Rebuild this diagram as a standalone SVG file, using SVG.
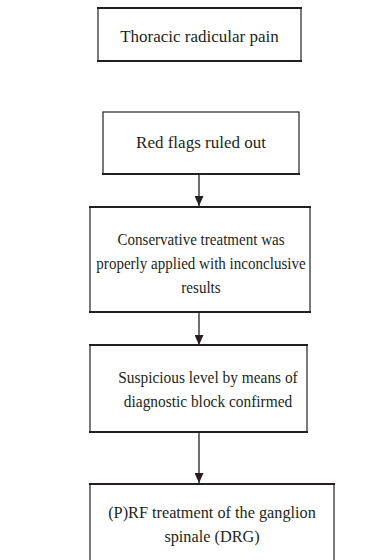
<svg xmlns="http://www.w3.org/2000/svg" width="389" height="560" viewBox="0 0 389 560">
<style>
.box{fill:#fff;stroke:#231f20;stroke-width:1.2}
.h{stroke:#231f20;stroke-width:2}
.t{font-family:"Liberation Serif","Times New Roman",serif;font-size:17.5px;fill:#231f20;text-anchor:middle}
.c{stroke:#231f20;stroke-width:1.3;fill:none}
</style>
<defs>
<marker id="ah" viewBox="0 0 10 9" refX="10" refY="4.5" markerWidth="10" markerHeight="9" markerUnits="userSpaceOnUse" orient="auto">
<path d="M0,0 L10,4.5 L0,9 Z" fill="#231f20"/>
</marker>
</defs>
<rect width="389" height="560" fill="#fff"/>
<g id="connectors">
<line class="c" x1="199" y1="174" x2="199" y2="206" marker-end="url(#ah)"/>
<line class="c" x1="199" y1="312" x2="199" y2="345" marker-end="url(#ah)"/>
<line class="c" x1="199" y1="432" x2="199" y2="483" marker-end="url(#ah)"/>
</g>
<g id="n1">
<rect class="box" x="98" y="8" width="203" height="53"/>
<line class="h" x1="97" y1="8" x2="302" y2="8"/>
<line class="h" x1="97" y1="61" x2="302" y2="61"/>
<text class="t" x="199.5" y="42" style="font-size:17px">Thoracic radicular pain</text>
</g>
<g id="n2">
<rect class="box" x="103" y="112" width="196" height="62"/>
<line class="h" x1="102" y1="174" x2="300" y2="174"/>
<text class="t" x="201" y="148" style="font-size:17px">Red flags ruled out</text>
</g>
<g id="n3">
<rect class="box" x="90" y="207" width="220" height="105"/>
<line class="h" x1="89" y1="207" x2="311" y2="207"/>
<line class="h" x1="89" y1="312" x2="311" y2="312"/>
<g transform="translate(201,0) scale(0.86,1)">
<text class="t" x="0" y="245">Conservative treatment was</text>
<text class="t" x="0" y="269">properly applied with inconclusive</text>
<text class="t" x="0" y="293">results</text>
</g>
</g>
<g id="n4">
<rect class="box" x="90" y="345" width="217" height="87"/>
<line class="h" x1="89" y1="345" x2="308" y2="345"/>
<line class="h" x1="89" y1="432" x2="308" y2="432"/>
<g transform="translate(208,0) scale(0.88,1)">
<text class="t" x="0" y="383">Suspicious level by means of</text>
<text class="t" x="0" y="407">diagnostic block confirmed</text>
</g>
</g>
<g id="n5">
<rect class="box" x="90" y="484" width="244" height="90"/>
<line class="h" x1="89" y1="484" x2="335" y2="484"/>
<g transform="translate(212,0) scale(0.93,1)">
<text class="t" x="0" y="518">(P)RF treatment of the ganglion</text>
<text class="t" x="0" y="542">spinale (DRG)</text>
</g>
</g>
</svg>
